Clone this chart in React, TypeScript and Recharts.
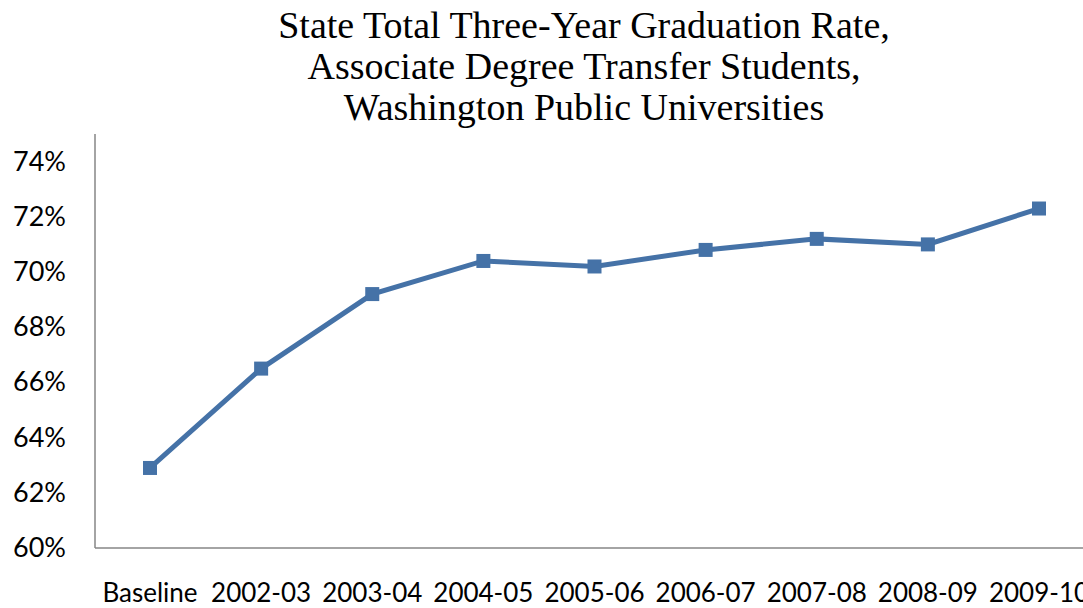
import React from "react";
import { LineChart, Line, XAxis, YAxis } from "recharts";

const categories = ["Baseline", "2002-03", "2003-04", "2004-05", "2005-06", "2006-07", "2007-08", "2008-09", "2009-10"];
const rates = [0.629, 0.665, 0.692, 0.704, 0.702, 0.708, 0.712, 0.710, 0.723];
const yTicks = [0.6, 0.62, 0.64, 0.66, 0.68, 0.7, 0.72, 0.74];
const titleLines = [
  "State Total Three-Year Graduation Rate,",
  "Associate Degree Transfer Students,",
  "Washington Public Universities",
];

const data = categories.map((c, i) => ({ name: c, rate: rates[i] }));

const SquareDot = (props: any) => {
  const { cx, cy } = props;
  if (cx == null || cy == null) return null;
  return <rect x={cx - 7} y={cy - 7} width={14} height={14} fill="#4572A7" />;
};

const XTick = (props: any) => {
  const { x, y, payload } = props;
  return (
    <text x={x} y={y + 46} textAnchor="middle" fontFamily="Lato, 'Open Sans', sans-serif" fontSize={26} fill="#000">
      {payload.value}
    </text>
  );
};

const YTick = (props: any) => {
  const { y, payload } = props;
  return (
    <text x={66} y={y + 9} textAnchor="end" fontFamily="Lato, 'Open Sans', sans-serif" fontSize={27} fill="#000">
      {Math.round(payload.value * 100) + "%"}
    </text>
  );
};

export default function App() {
  return (
    <div style={{ position: "fixed", left: 0, top: 0, width: 1083, height: 608, overflow: "hidden", background: "#fff" }}>
      <div
        style={{
          position: "absolute",
          left: 0,
          top: 5,
          width: 1168,
          textAlign: "center",
          fontFamily: "'Liberation Serif', 'Times New Roman', serif",
          fontSize: 38,
          lineHeight: "41px",
          color: "#000",
        }}
      >
        {titleLines.map((t) => (
          <div key={t}>{t}</div>
        ))}
      </div>
      <div style={{ position: "absolute", left: 0, top: 0 }}>
        <LineChart width={1094} height={608} data={data} margin={{ top: 134, right: 0, bottom: 0, left: 0 }}>
          <XAxis
            dataKey="name"
            height={60}
            tickLine={false}
            axisLine={{ stroke: "#868686", strokeWidth: 1.5 }}
            tick={<XTick />}
            interval={0}
            padding={{ left: 55, right: 55 }}
          />
          <YAxis
            width={95}
            domain={[0.6, 0.75]}
            ticks={yTicks}
            tickLine={false}
            axisLine={{ stroke: "#868686", strokeWidth: 1.5 }}
            tick={<YTick />}
            allowDataOverflow
          />
          <Line
            type="linear"
            dataKey="rate"
            stroke="#4572A7"
            strokeWidth={5}
            dot={<SquareDot />}
            activeDot={false}
            isAnimationActive={false}
          />
        </LineChart>
      </div>
    </div>
  );
}
